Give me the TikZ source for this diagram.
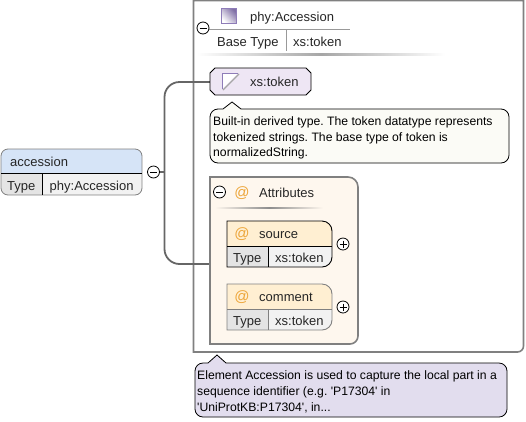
\documentclass[tikz,border=0pt]{standalone}
\usepackage{fontspec}
\setmainfont{Liberation Sans}
\newfontfamily\plainf{Liberation Sans}
\usetikzlibrary{calc}
\definecolor{conn}{HTML}{666666}
\definecolor{frameg}{HTML}{808080}
\definecolor{headblue}{HTML}{D6E4F7}
\definecolor{rowgray}{HTML}{F2F2F2}
\definecolor{keygray}{HTML}{E4E4E4}
\definecolor{tokfill}{HTML}{EEE6F4}
\definecolor{tipyellow}{HTML}{FBFBF6}
\definecolor{attfill}{HTML}{FEF7EE}
\definecolor{atthead}{HTML}{FFEFD2}
\definecolor{atsign}{HTML}{EDA63A}
\definecolor{tipviolet}{HTML}{E2DDEE}
\definecolor{iconv}{HTML}{8E7CB8}
\tikzset{
  x=1pt,y=-1pt,
  txt/.style={anchor=base west,inner sep=0pt,font=\plainf\frenchspacing\fontsize{13}{15}\selectfont,text=black!85},
  tip/.style={anchor=base west,inner sep=0pt,font=\plainf\frenchspacing\fontsize{12.2}{14}\selectfont,text=black},
  atmark/.style={anchor=center,inner sep=0pt,font=\plainf\fontsize{15}{15}\selectfont,text=atsign},
  toggle/.style={circle,draw=black,fill=white,line width=0.8pt,minimum size=12pt,inner sep=0pt},
  conline/.style={draw=conn,line width=1.8pt},
  sep/.style={draw=black,line width=0.8pt},
  softsep/.style={draw=black!40,line width=0.7pt}
}
\newcommand{\tgl}[3]{%
  \node[toggle] (#1) at (#2) {};
  \draw[line width=0.8pt] ($(#1)+(-3.5,0)$) -- ($(#1)+(3.5,0)$);
  \ifnum#3=1 \draw[line width=0.8pt] ($(#1)+(0,-3.5)$) -- ($(#1)+(0,3.5)$);\fi}
\begin{document}
\begin{tikzpicture}
\useasboundingbox (0,0) rectangle (526,421);
\fill[white] (0,0) rectangle (526,421);

% outer frame
\draw[frameg,line width=1.6pt] (193.5,0.5) -- (523.5,0.5) [rounded corners=6pt] -- (523.5,352) [sharp corners] -- (193.5,352) -- cycle;

% connector
\coordinate (bus) at (164.5,172);
\coordinate (tokenend) at (211,82);
\coordinate (attrend) at (211,264);
\draw[conline,rounded corners=15pt] (tokenend) -- (164.5,82) -- (164.5,264) -- (attrend);
\draw[conline,line width=1.2pt] (159,172) -- (bus);

% accession element
\begin{scope}
\clip[rounded corners=7pt] (1,149) rectangle (142,195);
\fill[headblue] (1,149) rectangle (142,173);
\fill[rowgray] (42,173) rectangle (142,195);
\fill[keygray] (1,173) rectangle (42,195);
\end{scope}
\draw[frameg,line width=0.8pt,rounded corners=7pt] (1,149) rectangle (142,195);
\draw[sep] (1,173) -- (142,173);
\draw[sep] (42,173) -- (42,195);
\node[txt] (accname) at (10,166) {accession};
\node[txt] (acctype) at (7,190) {Type};
\node[txt] (accval) at (49.5,190) {phy:Accession};
\tgl{acctoggle}{153.5,172}{0}

% phy:Accession type header
\shade[left color=iconv!90!black,right color=white,shading angle=-45] (221.5,8) rectangle (236,23);
\draw[iconv,line width=0.7pt] (221.5,8) rectangle (236,23);
\node[txt] (typename) at (250,21) {phy:Accession};
\draw[softsep] (205,29) -- (350,29);
\draw[softsep] (286,29) -- (286,51);
\node[txt] (basekey) at (217,46) {Base Type};
\node[txt] (baseval) at (293,46) {xs:token};
\shade[left color=white,right color=white,middle color=black!35] (197,53.5) rectangle (445,55);
\tgl{typetoggle}{203,28}{0}

% xs:token
\draw[black,line width=0.8pt,fill=tokfill] (215,68) -- (306,68) -- (311,73) -- (311,90) -- (306,95) -- (215,95) -- (210,90) -- (210,73) -- cycle;
\fill[white] (222,73) -- (238,73) -- (222,89) -- cycle;
\draw[iconv,line width=0.7pt] (238,73) -- (222,73) -- (222,89);
\draw[black!35,line width=1.2pt] (239,74) -- (223,90);
\node[txt] (tokname) at (250,86) {xs:token};

% token tooltip
\draw[black,line width=0.8pt,fill=tipyellow] (223,109) -- (232,102) -- (241,109) [rounded corners=8pt] -- (509,109) -- (509,163) -- (210,163) -- (210,109) [sharp corners] -- cycle;
\node[tip] (t1) at (213,125) {Built-in derived type. The token datatype represents};
\node[tip] (t2) at (213,141) {tokenized strings. The base type of token is};
\node[tip] (t3) at (213,156.5) {normalizedString.};

% attributes group
\draw[frameg,line width=1.6pt,fill=attfill] (210,177) [rounded corners=10pt] -- (358,177) [rounded corners=8pt] -- (358,344) [sharp corners] -- (210,344) -- cycle;
\tgl{attrtoggle}{219.5,192}{0}
\node[atmark] (attrat) at (242,193) {@};
\node[txt] (attrname) at (259,197) {Attributes};
\shade[left color=attfill,right color=attfill,middle color=black!45] (215,207) rectangle (323,208.5);

% source attribute
\begin{scope}
\clip (227,221) [rounded corners=10pt] -- (332,221) -- (332,267) [sharp corners] -- (227,267) -- cycle;
\fill[atthead] (227,221) rectangle (332,246);
\fill[rowgray] (268,246) rectangle (332,267);
\fill[keygray] (227,246) rectangle (268,267);
\end{scope}
\draw[black,line width=0.9pt] (227,221) [rounded corners=10pt] -- (332,221) -- (332,267) [sharp corners] -- (227,267) -- cycle;
\draw[sep] (227,246) -- (332,246);
\draw[sep] (268,246) -- (268,267);
\node[atmark] (sourceat) at (242,234.5) {@};
\node[txt] (sourcename) at (259,238) {source};
\node[txt] (sourcekey) at (233,262) {Type};
\node[txt] (sourceval) at (275,262) {xs:token};
\tgl{sourcetoggle}{343,244}{1}

% comment attribute
\begin{scope}
\clip (227,284) [rounded corners=10pt] -- (332,284) -- (332,330) [sharp corners] -- (227,330) -- cycle;
\fill[atthead] (227,284) rectangle (332,309);
\fill[rowgray] (268,309) rectangle (332,330);
\fill[keygray] (227,309) rectangle (268,330);
\end{scope}
\draw[frameg,line width=0.9pt] (227,284) [rounded corners=10pt] -- (332,284) -- (332,330) [sharp corners] -- (227,330) -- cycle;
\draw[frameg,line width=0.8pt] (227,309) -- (332,309);
\draw[frameg,line width=0.8pt] (268,309) -- (268,330);
\node[atmark] (commentat) at (242,297.5) {@};
\node[txt] (commentname) at (259,301) {comment};
\node[txt] (commentkey) at (233,325) {Type};
\node[txt] (commentval) at (275,325) {xs:token};
\tgl{commenttoggle}{343,307}{1}

% element tooltip
\draw[black,line width=0.8pt,fill=tipviolet] (208,363) -- (217,355) -- (226,363) [rounded corners=8pt] -- (507,363) -- (507,417) -- (195,417) -- (195,363) [sharp corners] -- cycle;
\node[tip] (e1) at (197,379) {Element Accession is used to capture the local part in a};
\node[tip] (e2) at (197,395) {sequence identifier (e.g. 'P17304' in};
\node[tip] (e3) at (197,411) {'UniProtKB:P17304', in...};
\end{tikzpicture}
\end{document}
